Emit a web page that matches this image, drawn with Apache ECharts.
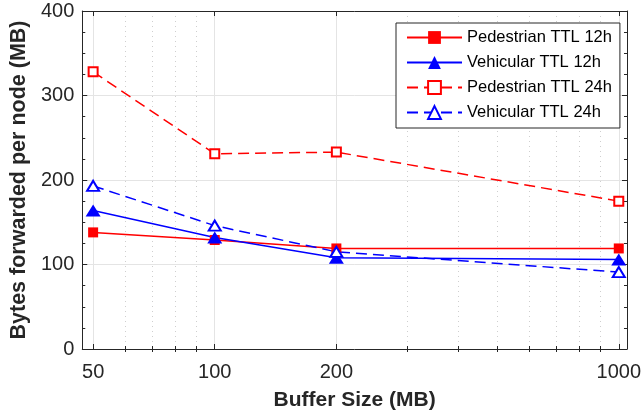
<!DOCTYPE html>
<html>
<head>
<meta charset="utf-8">
<script src="https://cdn.jsdelivr.net/npm/echarts@6/dist/echarts.min.js"></script>
<style>
  html, body { margin: 0; padding: 0; background: #fff; }
  #chart { width: 644px; height: 417px; }
</style>
</head>
<body>
<div id="chart"></div>
<script>
// Buffer sizes (MB) on a logarithmic x scale
const bufferSizes = [50, 100, 200, 1000];

// Bytes forwarded per node (MB)
const pedestrian12h = [138, 129, 119, 119];
const vehicular12h = [164, 132, 108, 106];
const pedestrian24h = [328, 231, 233, 175];
const vehicular24h = [193, 146, 115, 91];

// Axis ticks
const xMajorTicks = [50, 100, 200, 1000];
const xMinorTicks = [60, 70, 80, 90, 300, 400, 500, 600, 700, 800, 900];
const xRange = [47, 1048];
const yRange = [0, 400];
const yStep = 100;

const FONT = "'Liberation Sans', Arial, Helvetica, sans-serif";
const AXIS_COLOR = '#262626';
const GRID_COLOR = '#e4e4e4';
const lg = v => Math.log10(v);
const toPoints = ys => bufferSizes.map((x, i) => [lg(x), ys[i]]);

const xBase = { type: 'value', min: lg(xRange[0]), max: lg(xRange[1]) };

const chart = echarts.init(document.getElementById('chart'), null, { renderer: 'canvas' });

chart.setOption({
  animation: false,
  backgroundColor: '#fff',
  textStyle: { fontFamily: FONT },
  grid: { left: 81, right: 16, top: 11, bottom: 68, containLabel: false },
  legend: {
    orient: 'vertical',
    left: 396,
    top: 23,
    itemWidth: 55,
    itemHeight: 16,
    itemGap: 8,
    padding: [6, 8, 7, 10],
    borderColor: AXIS_COLOR,
    borderWidth: 1,
    backgroundColor: '#fff',
    textStyle: { fontSize: 16.5, color: '#000', fontFamily: FONT },
    data: ['Pedestrian TTL 12h', 'Vehicular TTL 12h', 'Pedestrian TTL 24h', 'Vehicular TTL 24h']
  },
  xAxis: [
    Object.assign({}, xBase, {
      position: 'bottom',
      axisLine: { show: true, onZero: false, lineStyle: { color: AXIS_COLOR, width: 1 } },
      axisTick: { show: true, inside: true, length: 5, customValues: xMajorTicks.map(lg), lineStyle: { color: AXIS_COLOR } },
      axisLabel: {
        customValues: xMajorTicks.map(lg),
        formatter: v => String(Math.round(Math.pow(10, v))),
        fontSize: 20, color: AXIS_COLOR, margin: 13, fontFamily: FONT
      },
      splitLine: { show: true, lineStyle: { color: GRID_COLOR, width: 1 } },
      name: 'Buffer Size (MB)',
      nameLocation: 'middle',
      nameGap: 41,
      nameTextStyle: { fontSize: 21, fontWeight: 'bold', color: AXIS_COLOR, fontFamily: FONT }
    }),
    Object.assign({}, xBase, {
      position: 'bottom',
      axisLine: { show: false },
      axisTick: { show: true, inside: true, length: 3, customValues: xMinorTicks.map(lg), lineStyle: { color: AXIS_COLOR } },
      axisLabel: { show: false },
      splitLine: { show: true, lineStyle: { color: '#cfcfcf', width: 1, type: [1, 4] } }
    }),
    Object.assign({}, xBase, {
      position: 'top',
      axisLine: { show: true, onZero: false, lineStyle: { color: AXIS_COLOR, width: 1 } },
      axisTick: { show: true, inside: true, length: 5, customValues: xMajorTicks.map(lg), lineStyle: { color: AXIS_COLOR } },
      axisLabel: { show: false },
      splitLine: { show: false }
    }),
    Object.assign({}, xBase, {
      position: 'top',
      axisLine: { show: false },
      axisTick: { show: true, inside: true, length: 3, customValues: xMinorTicks.map(lg), lineStyle: { color: AXIS_COLOR } },
      axisLabel: { show: false },
      splitLine: { show: false }
    })
  ],
  yAxis: [
    {
      type: 'value', position: 'left',
      min: yRange[0], max: yRange[1], interval: yStep,
      axisLine: { show: true, onZero: false, lineStyle: { color: AXIS_COLOR, width: 1 } },
      axisTick: { show: true, inside: true, length: 5, lineStyle: { color: AXIS_COLOR } },
      minorTick: { show: true, splitNumber: 4, length: 3, lineStyle: { color: AXIS_COLOR } },
      axisLabel: { fontSize: 20, color: AXIS_COLOR, margin: 8, fontFamily: FONT },
      splitLine: { show: true, lineStyle: { color: GRID_COLOR, width: 1 } },
      name: 'Bytes forwarded per node (MB)',
      nameLocation: 'middle',
      nameGap: 50,
      nameTextStyle: { fontSize: 21.5, fontWeight: 'bold', color: AXIS_COLOR, fontFamily: FONT }
    },
    {
      type: 'value', position: 'right',
      min: yRange[0], max: yRange[1], interval: yStep,
      axisLine: { show: true, onZero: false, lineStyle: { color: AXIS_COLOR, width: 1 } },
      axisTick: { show: true, inside: true, length: 5, lineStyle: { color: AXIS_COLOR } },
      minorTick: { show: true, splitNumber: 4, length: 3, lineStyle: { color: AXIS_COLOR } },
      axisLabel: { show: false },
      splitLine: { show: false }
    }
  ],
  series: [
    {
      name: 'Pedestrian TTL 12h', type: 'line', xAxisIndex: 0, yAxisIndex: 0,
      data: toPoints(pedestrian12h),
      symbol: 'rect', symbolSize: 10,
      itemStyle: { color: '#ff0000' },
      lineStyle: { color: '#ff0000', width: 1.5, type: 'solid' },
      emphasis: { disabled: true }
    },
    {
      name: 'Vehicular TTL 12h', type: 'line', xAxisIndex: 0, yAxisIndex: 0,
      data: toPoints(vehicular12h),
      symbol: 'triangle', symbolSize: [15, 12],
      itemStyle: { color: '#0000ff' },
      lineStyle: { color: '#0000ff', width: 1.5, type: 'solid' },
      emphasis: { disabled: true }
    },
    {
      name: 'Pedestrian TTL 24h', type: 'line', xAxisIndex: 0, yAxisIndex: 0,
      data: toPoints(pedestrian24h),
      symbol: 'emptyRect', symbolSize: 9,
      itemStyle: { color: '#ff0000', borderWidth: 1.5 },
      lineStyle: { color: '#ff0000', width: 1.5, type: [11, 6] },
      emphasis: { disabled: true }
    },
    {
      name: 'Vehicular TTL 24h', type: 'line', xAxisIndex: 0, yAxisIndex: 0,
      data: toPoints(vehicular24h),
      symbol: 'emptyTriangle', symbolSize: [12, 10],
      itemStyle: { color: '#0000ff', borderWidth: 1.5 },
      lineStyle: { color: '#0000ff', width: 1.5, type: [11, 6] },
      emphasis: { disabled: true }
    }
  ]
});
</script>
</body>
</html>
